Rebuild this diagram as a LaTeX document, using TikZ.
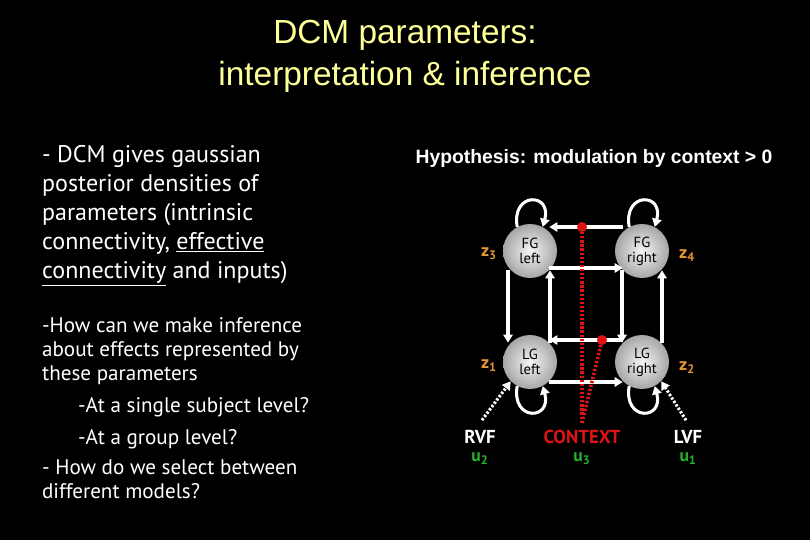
\documentclass[tikz,border=0pt]{standalone}
\usepackage{fontspec}
\setmainfont{PT Sans}
\newfontfamily\titlefont{Liberation Sans}
\usetikzlibrary{arrows.meta}
\definecolor{titleyellow}{RGB}{255,255,153}
\definecolor{zorange}{RGB}{230,150,50}
\definecolor{ugreen}{RGB}{40,180,40}
\definecolor{ctxred}{RGB}{220,20,20}
\newcommand{\sub}[1]{\textsubscript{#1}}
\begin{document}
\begin{tikzpicture}[x=0.03cm, y=-0.03cm,
    region/.style={circle, minimum size=54*0.03cm, inner sep=0pt, shading=radial,
      inner color=gray!8, outer color=gray!70, align=center, font=\fontsize{12.5}{13}\selectfont, text=black},
    conn/.style={white, line width=2.6pt, -{Triangle[length=7pt,width=8pt]}},
    inputarrow/.style={white, line width=2.6pt, dash pattern=on 2pt off 1.5pt, -{Triangle[length=7pt,width=8pt]}},
    modline/.style={ctxred, line width=3pt, dash pattern=on 2pt off 1.5pt},
    zlab/.style={text=zorange, font=\bfseries\fontsize{15}{15}\selectfont},
    ulab/.style={text=ugreen, font=\bfseries\fontsize{15}{15}\selectfont},
    inlab/.style={text=white, font=\bfseries\fontsize{16}{16}\selectfont},
    bodytext/.style={text=white, anchor=north west, align=left, font=\fontsize{20.5}{24.8}\selectfont},
    smalltext/.style={bodytext, font=\fontsize{18}{20.5}\selectfont}
]
\fill[black] (0,0) rectangle (810,540);

% Titre
\node[text=titleyellow, align=center, font=\titlefont\fontsize{28.5}{36}\selectfont] (title) at (405,56)
  {DCM parameters:\\interpretation \& inference};

% Texte de gauche
\node[bodytext] (txta) at (38,141) {- DCM gives gaussian\\posterior densities of\\parameters (intrinsic\\connectivity, \underline{effective}\\\underline{connectivity} and inputs)};
\node[smalltext] (txtb) at (38,313) {-How can we make inference\\about effects represented by\\these parameters};
\node[smalltext] (txtc) at (74,393) {-At a single subject level?};
\node[smalltext] (txtd) at (74,425) {-At a group level?};
\node[smalltext] (txte) at (38,456) {- How do we select between\\different models?};

% Hypothese
\node[text=white, font=\titlefont\bfseries\fontsize{16.5}{16.5}\selectfont] (hyp) at (594,159) {Hypothesis: modulation by context > 0};

% Regions
\node[region] (fgl) at (530,251) {FG\\left};
\node[region] (fgr) at (642,251) {FG\\right};
\node[region] (lgl) at (530,362) {LG\\left};
\node[region] (lgr) at (642,362) {LG\\right};

% Connexions
\draw[conn] (fgr.north west |- 0,227) -- (fgl.north east |- 0,227);
\draw[conn] (fgl.south east |- 0,268) -- (fgr.south west |- 0,268);
\draw[conn] (lgr.north west |- 0,340) -- (lgl.north east |- 0,340);
\draw[conn] (lgl.south east |- 0,382) -- (lgr.south west |- 0,382);
\draw[conn] (fgl.south west -| 508,0) -- (lgl.north west -| 508,0);
\draw[conn] (lgl.north east -| 550,0) -- (fgl.south east -| 550,0);
\draw[conn] (fgr.south west -| 622,0) -- (lgr.north west -| 622,0);
\draw[conn] (lgr.north east -| 662,0) -- (fgr.south east -| 662,0);

% Auto-connexions
\draw[conn] (fgl.118) to[out=100, in=75, looseness=3.6] (fgl.62);
\draw[conn] (fgr.118) to[out=100, in=75, looseness=3.6] (fgr.62);
\draw[conn] (lgl.242) to[out=-100, in=-75, looseness=3.6] (lgl.298);
\draw[conn] (lgr.242) to[out=-100, in=-75, looseness=3.6] (lgr.298);

% Labels z
\node[zlab] (z3) at (489,254) {z\sub{3}};
\node[zlab] (z4) at (687,256) {z\sub{4}};
\node[zlab] (z1) at (489,366) {z\sub{1}};
\node[zlab] (z2) at (687,368) {z\sub{2}};

% Entrees
\node[inlab] (rvf) at (480,437) {RVF};
\node[inlab, text=ctxred] (ctx) at (582,437) {CONTEXT};
\node[inlab] (lvf) at (688,437) {LVF};
\node[ulab] (u2) at (480,459) {u\sub{2}};
\node[ulab] (u3) at (582,459) {u\sub{3}};
\node[ulab] (u1) at (688,459) {u\sub{1}};

\draw[inputarrow] (rvf.north) ++(2,-6) coordinate (rvftop) -- (lgl.225);
\draw[inputarrow] (lvf.north) ++(-2,-6) coordinate (lvftop) -- (lgr.-45);

% Modulation
\coordinate (ctxtop) at (582,423);
\coordinate (modtop) at (582,227);
\coordinate (modbot) at (602,340);
\draw[modline] (ctxtop) -- (modtop);
\draw[modline] (ctxtop) -- (modbot);
\fill[ctxred] (modtop) circle (5);
\fill[ctxred] (modbot) circle (5);
\end{tikzpicture}
\end{document}
